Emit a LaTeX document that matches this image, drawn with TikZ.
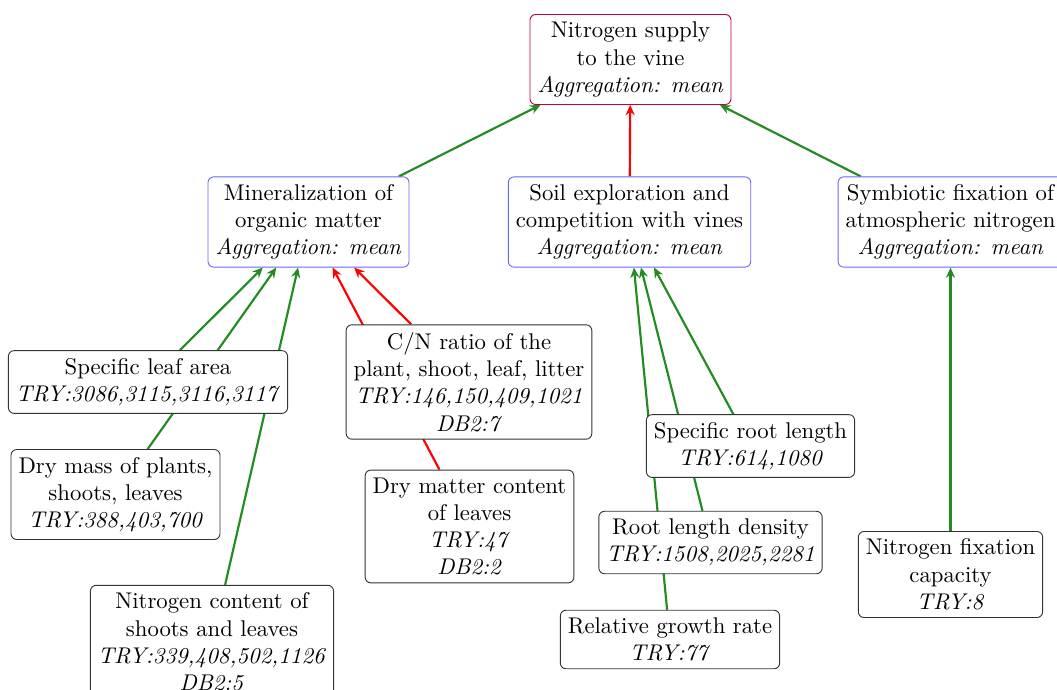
\documentclass[tikz,border=0pt]{standalone}
\usetikzlibrary{arrows.meta,backgrounds}
\definecolor{topc}{rgb}{0.75,0,0.25}
\definecolor{midc}{rgb}{0.4,0.4,1}
\definecolor{leafc}{rgb}{0.2,0.2,0.2}
\definecolor{grn}{RGB}{34,139,34}
\begin{document}
\begin{tikzpicture}[x=0.44pt,y=-0.44pt,
  base/.style={draw, rounded corners=2.5pt, align=center, fill=white, inner sep=3.3pt},
  topbox/.style={base, draw=topc},
  midbox/.style={base, draw=midc},
  leafbox/.style={base, draw=leafc},
  posedge/.style={draw=grn, line width=0.95pt, -{Stealth[length=4.5pt,width=4pt]}},
  negedge/.style={draw=red, line width=0.95pt, -{Stealth[length=4.5pt,width=4pt]}}]
\clip (0,0) rectangle (1057,690);
\useasboundingbox (0,0) rectangle (1057,690);
\node[topbox] (top) at (630.5,59.5) {Nitrogen supply\\to the vine\\\textit{Aggregation: mean}};
\node[midbox] (min) at (308.5,222) {Mineralization of\\organic matter\\\textit{Aggregation: mean}};
\node[midbox] (soil) at (629.5,222) {Soil exploration and\\competition with vines\\\textit{Aggregation: mean}};
\node[midbox] (sym) at (950.5,222) {Symbiotic fixation of\\atmospheric nitrogen\\\textit{Aggregation: mean}};
\node[leafbox] (sla) at (148,382) {Specific leaf area\\\textit{TRY:3086,3115,3116,3117}};
\node[leafbox] (dm) at (115.5,494.5) {Dry mass of plants,\\shoots, leaves\\\textit{TRY:388,403,700}};
\node[leafbox] (nc) at (212,642) {Nitrogen content of\\shoots and leaves\\\textit{TRY:339,408,502,1126}\\\textit{DB2:5}};
\node[leafbox] (cn) at (469,382) {C/N ratio of the\\plant, shoot, leaf, litter\\\textit{TRY:146,150,409,1021}\\\textit{DB2:7}};
\node[leafbox] (dmc) at (469.5,526.5) {Dry matter content\\of leaves\\\textit{TRY:47}\\\textit{DB2:2}};
\node[leafbox] (srl) at (750.5,446) {Specific root length\\\textit{TRY:614,1080}};
\node[leafbox] (rld) at (710.5,542.5) {Root length density\\\textit{TRY:1508,2025,2281}};
\node[leafbox] (rgr) at (670,639.5) {Relative growth rate\\\textit{TRY:77}};
\node[leafbox] (nf) at (950.5,574.5) {Nitrogen fixation\\capacity\\\textit{TRY:8}};
\begin{scope}[on background layer]
\draw[posedge] (min) -- (top);
\draw[negedge] (soil) -- (top);
\draw[posedge] (sym) -- (top);
\draw[posedge] (sla) -- (min);
\draw[posedge] (dm) -- (min);
\draw[posedge] (nc) -- (min);
\draw[negedge] (cn) -- (min);
\draw[negedge] (dmc) -- (min);
\draw[posedge] (srl) -- (soil);
\draw[posedge] (rld) -- (soil);
\draw[posedge] (rgr) -- (soil);
\draw[posedge] (nf) -- (sym);
\end{scope}
\end{tikzpicture}
\end{document}
